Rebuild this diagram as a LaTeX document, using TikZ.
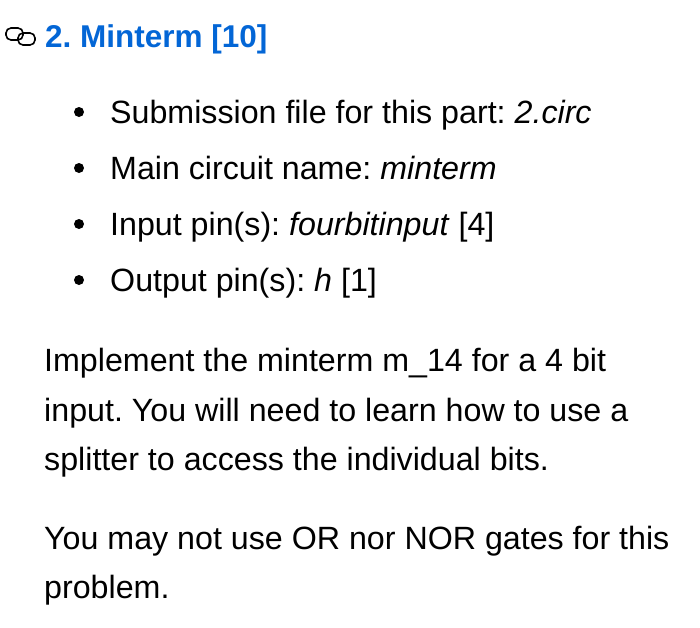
\documentclass[tikz,border=0pt]{standalone}
\usepackage{fontspec}
\setmainfont{Liberation Sans}
\definecolor{linkblue}{HTML}{0366D6}
\begin{document}
\frenchspacing
\begin{tikzpicture}[x=1pt,y=-1pt,
  txt/.style={anchor=base west,inner sep=0,font=\fontsize{32.2}{36}\selectfont},
  bul/.style={circle,fill=black,inner sep=0,minimum size=10pt}]
\useasboundingbox (0,0) rectangle (700,627);
% link icon
\draw[line width=1.6pt,rounded corners=5pt] (6,28) rectangle (23,40);
\draw[line width=1.6pt,rounded corners=5pt] (18,33) rectangle (35,45);
\node[txt,font=\fontsize{31.5}{36}\selectfont\bfseries,text=linkblue] (title) at (45,47) {2. Minterm [10]};
\node[bul] (b1) at (79,112) {};
\node[txt] (l1) at (110,123) {Submission file for this part: \textit{2.circ}};
\node[bul] (b2) at (79,168) {};
\node[txt] (l2) at (110,179) {Main circuit name: \textit{minterm}};
\node[bul] (b3) at (79,224) {};
\node[txt] (l3) at (110,235) {Input pin(s): \textit{fourbitinput} [4]};
\node[bul] (b4) at (79,280) {};
\node[txt] (l4) at (110,291) {Output pin(s): \textit{h} [1]};
\node[txt] (p1) at (44,371) {Implement the minterm m\_14 for a 4 bit};
\node[txt] (p2) at (44,421) {input. You will need to learn how to use a};
\node[txt] (p3) at (44,470) {splitter to access the individual bits.};
\node[txt] (p4) at (44,549) {You may not use OR nor NOR gates for this};
\node[txt] (p5) at (44,598) {problem.};
\end{tikzpicture}
\end{document}
